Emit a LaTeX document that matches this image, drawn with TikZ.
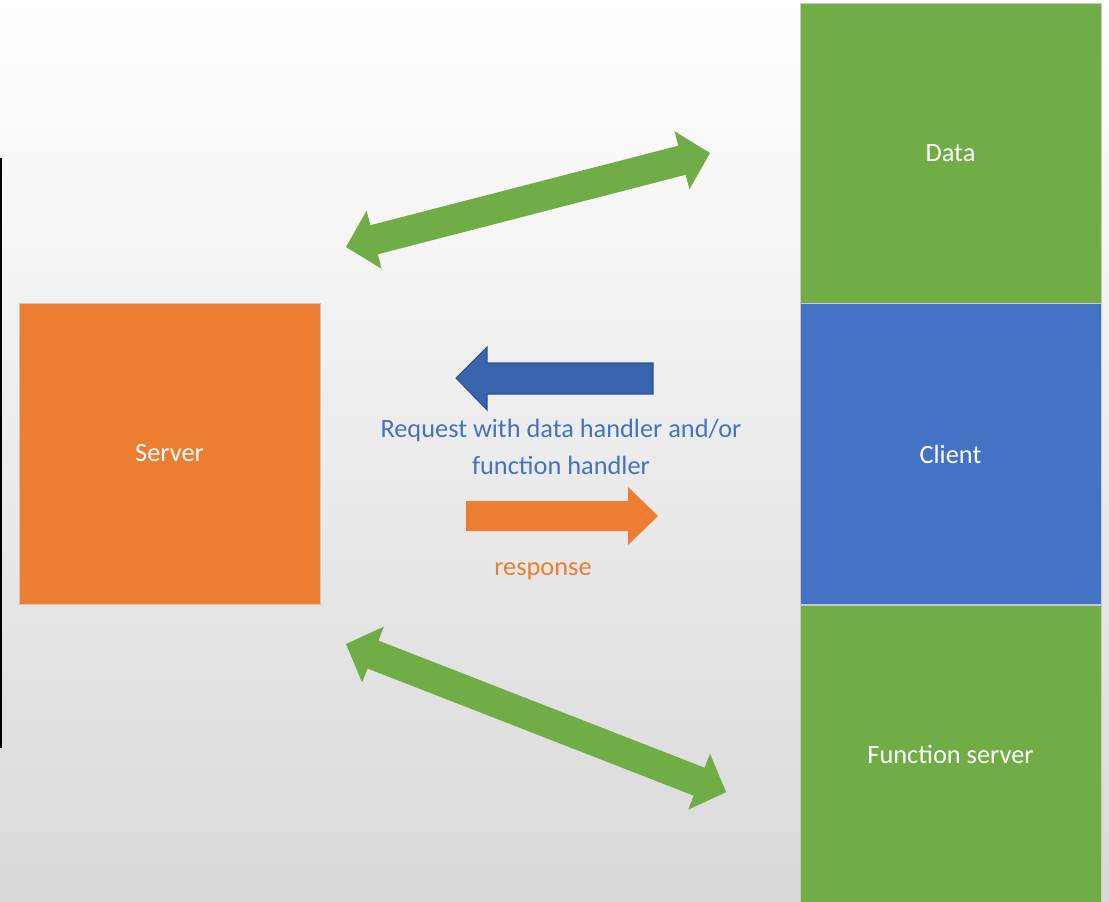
\documentclass[tikz,border=0pt]{standalone}
\usepackage{fontspec}
\setmainfont{Carlito}
\usepackage{tikz}
\usetikzlibrary{positioning, calc}
\definecolor{csOrange}{HTML}{ED7D31}
\definecolor{csGreen}{HTML}{70AD47}
\definecolor{csBlue}{HTML}{4472C4}
\definecolor{csReq}{HTML}{3A63AD}
\definecolor{csReqLine}{HTML}{2F528F}
\definecolor{csEdge}{HTML}{C8C8C8}
\tikzset{
  csbox/.style={
    draw=csEdge, line width=0.5pt, minimum width=6.02cm, minimum height=6.02cm,
    inner sep=0pt, text=white, font=\fontsize{15}{18}\selectfont
  },
  server/.style={csbox, fill=csOrange},
  store/.style={csbox, fill=csGreen, minimum height=6cm},
  client/.style={csbox, fill=csBlue},
  msgtext/.style={font=\fontsize{15}{21}\selectfont, align=center, inner sep=0pt},
  pics/biarrow/.style={code={
    \fill[csGreen] (0,0) -- (29,-30) -- (29,-15) -- (#1-29,-15) -- (#1-29,-30)
      -- (#1,0) -- (#1-29,30) -- (#1-29,15) -- (29,15) -- (29,30) -- cycle;
  }}
}
\begin{document}
\begin{tikzpicture}[x=0.02cm, y=-0.02cm]
  \useasboundingbox (0,0) rectangle (1109,902);
  \shade[top color=white, bottom color=black!15] (0,0) rectangle (1109,902);
  \draw[black, line width=0.9pt] (1,158) -- (1,748);

  % boxes
  \node[server] (server) at (169.5,453.5) {Server};
  \node[store] (data) at (950.5,153) {Data};
  \node[client, below=0pt of data] (client) {Client};
  \node[store, below=0pt of client, minimum height=5.96cm] (funcsrv) {Function server};

  % green links
  \coordinate (dataL) at (346,247);
  \coordinate (funcL) at (346,644);
  \pic[rotate=14.48] at (dataL) {biarrow=376};
  \pic[rotate=-21.3] at (funcL) {biarrow=408};

  % request / response
  \filldraw[fill=csReq, draw=csReqLine, line width=0.6pt] (456,378) -- (487,347) -- (487,363)
    -- (653,363) -- (653,394) -- (487,394) -- (487,410) -- cycle;
  \fill[csOrange] (658,516) -- (628,487) -- (628,501) -- (466,501) -- (466,531)
    -- (628,531) -- (628,545) -- cycle;
  \node[msgtext, text=csBlue] (reqtxt) at (561,447) {Request with data handler and/or\\function handler};
  \node[msgtext, text=csOrange] (resptxt) at (543,571) {response};
\end{tikzpicture}
\end{document}
